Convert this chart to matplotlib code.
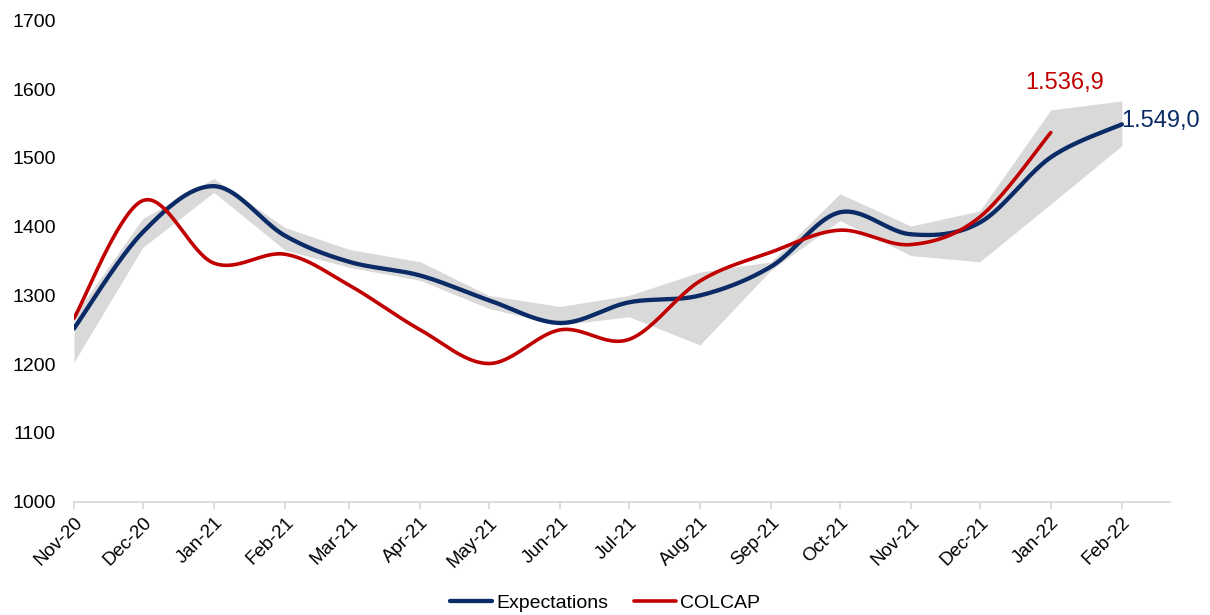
import numpy as np
import matplotlib
matplotlib.use("Agg")
import matplotlib.pyplot as plt
import matplotlib.dates as mdates
import datetime as dt

plt.rcParams['font.family'] = ['Liberation Sans', 'DejaVu Sans']

# ---- data ----
months = ["Nov-20", "Dec-20", "Jan-21", "Feb-21", "Mar-21", "Apr-21", "May-21", "Jun-21",
          "Jul-21", "Aug-21", "Sep-21", "Oct-21", "Nov-21", "Dec-21", "Jan-22", "Feb-22"]
expectations = [1252, 1392, 1459, 1387, 1349, 1329, 1293, 1260,
                1290, 1300, 1342, 1421, 1389, 1406, 1501, 1549.0]
colcap = [1267, 1438, 1347, 1360, 1315, 1250, 1201, 1250,
          1236, 1321, 1363, 1395, 1374, 1414, 1536.9]
band_low = [1203, 1370, 1450, 1366, 1341, 1322, 1281, 1257,
            1269, 1228, 1337, 1409, 1358, 1349, 1433, 1518]
band_high = [1271, 1412, 1470, 1399, 1367, 1349, 1300, 1284,
             1300, 1334, 1349, 1448, 1401, 1423, 1570, 1583]

dates = [dt.datetime.strptime(m, "%b-%y") for m in months]
xnum = mdates.date2num(dates)

BLUE = "#0B2B66"
RED = "#C00000"
GRAY = "#D9D9D9"


def excel_smooth(x, y, n=40):
    """Cubic Bezier smoothing like Excel's 'smoothed line'."""
    x = np.asarray(x, float)
    y = np.asarray(y, float)
    P = np.column_stack([x, y])
    k = len(P)
    out = []
    for i in range(k - 1):
        p0 = P[i - 1] if i > 0 else P[i]
        p1 = P[i]
        p2 = P[i + 1]
        p3 = P[i + 2] if i + 2 < k else P[i + 1]
        c1 = p1 + (p2 - p0) / 6.0
        c2 = p2 - (p3 - p1) / 6.0
        t = np.linspace(0, 1, n)[:, None]
        seg = ((1 - t) ** 3) * p1 + 3 * ((1 - t) ** 2) * t * c1 + 3 * (1 - t) * t ** 2 * c2 + t ** 3 * p2
        if i > 0:
            seg = seg[1:]
        out.append(seg)
    out = np.vstack(out)
    return out[:, 0], out[:, 1]


def fmt_es(v):
    return f"{v:,.1f}".replace(",", "X").replace(".", ",").replace("X", ".")


fig = plt.figure(figsize=(12.1, 6.15), dpi=100)
ax = fig.add_axes([74 / 1210, 1 - 501.7 / 615, (1170 - 74) / 1210, (501.7 - 20.5) / 615])

ax.fill_between(xnum, band_low, band_high, color=GRAY, lw=0, zorder=1)

ex_x, ex_y = excel_smooth(xnum, expectations)
ax.plot(ex_x, ex_y, color=BLUE, lw=3.1, solid_capstyle='round', zorder=3, label="Expectations")
co_x, co_y = excel_smooth(xnum[:len(colcap)], colcap)
ax.plot(co_x, co_y, color=RED, lw=2.6, solid_capstyle='round', zorder=4, label="COLCAP")

ax.annotate(fmt_es(colcap[-1]),
            xy=(xnum[len(colcap) - 1], colcap[-1]), xytext=(14, 50), textcoords='offset pixels',
            ha='center', va='center', color=RED, fontsize=17)
ax.annotate(fmt_es(expectations[-1]),
            xy=(xnum[-1], expectations[-1]), xytext=(-1, 3), textcoords='offset pixels',
            ha='left', va='center', color=BLUE, fontsize=17)

ax.set_ylim(1000, 1700)
ax.set_yticks(np.arange(1000, 1701, 100))
ax.set_xlim(xnum[0], xnum[-1] + 21)
ax.set_xticks(xnum)
ax.set_xticklabels(months, rotation=45, ha='right', va='top', rotation_mode='anchor', fontsize=13.5)

for s in ['top', 'right', 'left']:
    ax.spines[s].set_visible(False)
ax.spines['bottom'].set_color(GRAY)
ax.spines['bottom'].set_linewidth(1.3)
ax.tick_params(axis='x', colors=GRAY, length=5, width=1.3, labelcolor='black', pad=4)
ax.tick_params(axis='y', length=0, labelsize=14, pad=13, labelcolor='black')

leg = fig.legend(loc='center', bbox_to_anchor=(0.5, 1 - 603 / 615), ncol=2, frameon=False,
                 fontsize=14, handlelength=2.2, handletextpad=0.2, columnspacing=1.3)

fig.savefig("out.png", dpi=100)
